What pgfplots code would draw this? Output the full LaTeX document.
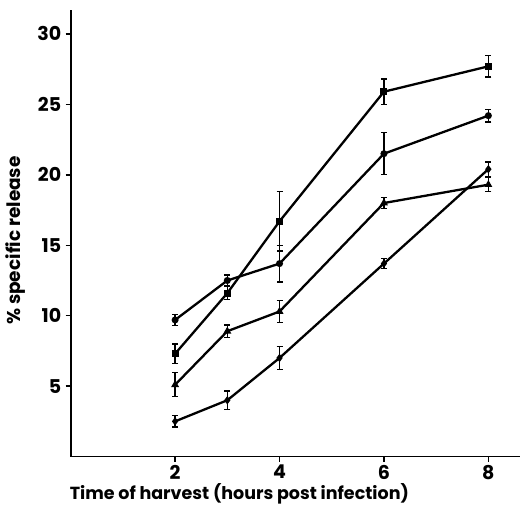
\documentclass[border=0pt]{standalone}
\usepackage{fontspec}
\setmainfont{Poppins}
\usepackage{pgfplots}
\pgfplotsset{compat=1.18}
\usepackage{pgfplotstable}

% time, % specific release, error
\pgfplotstableread{
x y e
2 9.7 0.4
3 12.5 0.4
4 13.7 1.3
6 21.5 1.5
8 24.2 0.45
}\seriesA
\pgfplotstableread{
x y e
2 7.3 0.7
3 11.6 0.45
4 16.7 2.1
6 25.9 0.9
8 27.7 0.75
}\seriesB
\pgfplotstableread{
x y e
2 5.1 0.85
3 8.9 0.45
4 10.3 0.8
6 18.0 0.4
8 19.3 0.5
}\seriesC
\pgfplotstableread{
x y e
2 2.5 0.4
3 4.0 0.65
4 7.0 0.8
6 13.7 0.35
8 20.4 0.5
}\seriesD

\pgfplotsset{release/.style={black,line width=2.3pt,mark size=2.3pt,
    mark options={solid},
    error bars/y dir=both,error bars/y explicit,
    error bars/error bar style={line width=1.3pt},
    error bars/error mark options={line width=1.3pt,mark size=3pt,rotate=90}}}

\begin{document}
\begin{tikzpicture}
\begin{axis}[
  at={(0pt,0pt)},anchor=south west,
  scale only axis,width=449pt,height=446.6pt,
  xmin=0,xmax=8.6,ymin=0,ymax=31.7,
  axis x line*=bottom,axis y line*=left,
  axis line style={line width=1.8pt},
  xtick={2,4,6,8},ytick={5,10,15,20,25,30},
  tick align=outside,
  major tick length=5pt,
  tick style={line width=1.5pt,black},
  /pgf/number format/assume math mode=true,
  ticklabel style={font=\fontsize{19}{22}\selectfont\bfseries},
  yticklabel style={xshift=-1pt},
]
\addplot[release,mark=*] table[x=x,y=y,y error=e]{\seriesA};
\addplot[release,mark=square*] table[x=x,y=y,y error=e]{\seriesB};
\addplot[release,mark=triangle*] table[x=x,y=y,y error=e]{\seriesC};
\addplot[release,mark=diamond*] table[x=x,y=y,y error=e]{\seriesD};
\end{axis}
\node[anchor=base west,font=\fontsize{17.5}{20}\selectfont\bfseries,inner sep=0pt]
  at (-1pt,-43.4pt) {Time of harvest (hours post infection)};
\node[anchor=base,rotate=90,font=\fontsize{18.5}{21}\selectfont\bfseries,inner sep=0pt]
  at (-50pt,216pt) {\% specific release};
\pgfresetboundingbox
\path (-70.7pt,-48.4pt) rectangle (449.3pt,456.6pt);
\end{tikzpicture}
\end{document}
